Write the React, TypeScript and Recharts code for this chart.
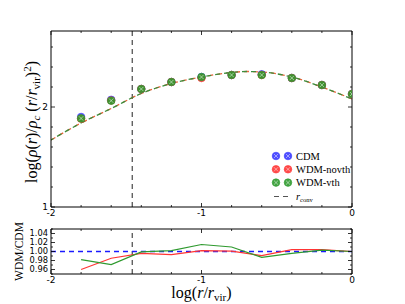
import React from 'react';
import {
  ComposedChart,
  Line,
  Scatter,
  XAxis,
  YAxis,
  ReferenceLine,
  Legend,
} from 'recharts';

// log(r/r_vir) of the measured bins
const radii = [-1.8, -1.6, -1.4, -1.2, -1.0, -0.8, -0.6, -0.4, -0.2, 0];
// log(rho/rho_c (r/r_vir)^2) per model
const cdmDensity = [1.9, 2.072, 2.18, 2.25, 2.3, 2.32, 2.327, 2.29, 2.22, 2.13];
const novthDensity = [1.883, 2.065, 2.18, 2.25, 2.29, 2.32, 2.32, 2.29, 2.22, 2.13];
const vthDensity = [1.886, 2.063, 2.18, 2.25, 2.3, 2.32, 2.32, 2.29, 2.22, 2.13];

// fitted profiles (dashed)
const fitRadii = [-2, -1.8, -1.6, -1.4, -1.2, -1.0, -0.8, -0.7, -0.6, -0.4, -0.2, 0];
const novthFit = [1.67, 1.84, 1.985, 2.135, 2.235, 2.3, 2.345, 2.355, 2.35, 2.3, 2.2, 2.08];
const vthFit = [1.67, 1.84, 1.985, 2.135, 2.235, 2.3, 2.345, 2.355, 2.35, 2.3, 2.2, 2.08];

// WDM / CDM ratios
const novthRatio = [0.96, 0.985, 0.996, 0.993, 1.002, 1.001, 0.991, 1.004, 1.004, 1.0];
const vthRatio = [0.982, 0.971, 0.999, 1.002, 1.0155, 1.01, 0.987, 0.996, 1.003, 1.0];

const rConv = -1.46;

const xTicks = [-2, -1.8, -1.6, -1.4, -1.2, -1, -0.8, -0.6, -0.4, -0.2, 0];
const yTicksTop = [1, 1.2, 1.4, 1.6, 1.8, 2, 2.2, 2.4, 2.6];
const yTicksBottom = [0.95, 0.96, 0.97, 0.98, 0.99, 1.0, 1.01, 1.02, 1.03, 1.04, 1.05];

const zip = (xs: number[], ys: number[]) => xs.map((x, i) => ({ x, y: ys[i] }));

const cdmPts = zip(radii, cdmDensity);
const novthPts = zip(radii, novthDensity);
const vthPts = zip(radii, vthDensity);
const novthFitPts = zip(fitRadii, novthFit);
const vthFitPts = zip(fitRadii, vthFit);
const novthRatioPts = zip(radii, novthRatio);
const vthRatioPts = zip(radii, vthRatio);

const BLUE = '#3a3aff';
const RED = '#ff3434';
const GREEN = '#2f9a2f';
const FIT_RED = '#e8643a';
const FIT_GREEN = '#3c8c3c';
const SANS = '"DejaVu Sans", sans-serif';
const SERIF = '"Liberation Serif", serif';

const isMajor = (v: number, step: number) => Math.abs(v / step - Math.round(v / step)) < 1e-6;

type Side = 'bottom' | 'top' | 'left' | 'right';

// inward ticks, matplotlib style
const makeTick = (side: Side, step: number, fmt?: (v: number) => string, size = 9) => (props: any) => {
  const { x, y, payload } = props;
  const v = payload.value as number;
  const major = isMajor(v, step);
  const len = major ? 4 : 2;
  let line;
  if (side === 'bottom') line = <line x1={x} x2={x} y1={y} y2={y - len} />;
  else if (side === 'top') line = <line x1={x} x2={x} y1={y} y2={y + len} />;
  else if (side === 'left') line = <line x1={x} x2={x + len} y1={y} y2={y} />;
  else line = <line x1={x} x2={x - len} y1={y} y2={y} />;
  let label = null;
  if (fmt && major) {
    label =
      side === 'bottom' ? (
        <text x={x} y={y + 2.5} dy="0.71em" textAnchor="middle" fontSize={size} fontFamily={SANS} fill="#000" stroke="none">
          {fmt(v)}
        </text>
      ) : (
        <text x={x - 3} y={y} dy="0.35em" textAnchor="end" fontSize={size} fontFamily={SANS} fill="#000" stroke="none">
          {fmt(v)}
        </text>
      );
  }
  return (
    <g stroke="#000" strokeWidth={0.8}>
      {line}
      {label}
    </g>
  );
};

const fmtInt = (v: number) => String(Math.round(v));
const fmt2 = (v: number) => v.toFixed(2);

const Marker = ({ cx, cy, color }: { cx: number; cy: number; color: string }) => {
  const d = 2.1;
  return (
    <g>
      <circle cx={cx} cy={cy} r={3.8} fill={color} fillOpacity={0.9} stroke={color} strokeWidth={0.6} />
      <line x1={cx - d} y1={cy - d} x2={cx + d} y2={cy + d} stroke="#fff" strokeOpacity={0.6} strokeWidth={0.8} />
      <line x1={cx - d} y1={cy + d} x2={cx + d} y2={cy - d} stroke="#fff" strokeOpacity={0.6} strokeWidth={0.8} />
    </g>
  );
};

const markerShape = (color: string) => (props: any) => <Marker cx={props.cx} cy={props.cy} color={color} />;

const legendItems = [
  { name: 'CDM', color: BLUE },
  { name: 'WDM-novth', color: RED },
  { name: 'WDM-vth', color: GREEN },
];

const LegendBox = () => (
  <svg width={92} height={58}>
    {legendItems.map((it, i) => (
      <g key={it.name}>
        <Marker cx={8} cy={8 + i * 13.3} color={it.color} />
        <Marker cx={20} cy={8 + i * 13.3} color={it.color} />
        <text x={28} y={8 + i * 13.3} dy="0.35em" fontSize={10.5} fontFamily={SERIF} fill="#000">
          {it.name}
        </text>
      </g>
    ))}
    <line x1={6} x2={22} y1={48.5} y2={48.5} stroke="#555" strokeWidth={1.2} strokeDasharray="5 4" />
    <text x={28} y={48.5} dy="0.3em" fontSize={10.5} fontFamily={SERIF} fill="#000">
      <tspan fontStyle="italic">r</tspan>
      <tspan fontSize={6.5} dy={2}>conv</tspan>
    </text>
  </svg>
);

const TopYLabel = (props: any) => {
  const vb = props.viewBox;
  const cx = 37;
  const cy = vb.y + vb.height / 2 + 3;
  return (
    <text
      x={cx}
      y={cy}
      transform={`rotate(-90 ${cx} ${cy})`}
      textAnchor="middle"
      fontSize={16}
      fontFamily={SERIF}
      fill="#000"
    >
      log(<tspan fontStyle="italic">ρ</tspan>(<tspan fontStyle="italic">r</tspan>)/<tspan fontStyle="italic">ρ</tspan>
      <tspan fontStyle="italic" fontSize={11} dy={3}>c</tspan>
      <tspan dy={-3}> (</tspan>
      <tspan fontStyle="italic">r</tspan>/<tspan fontStyle="italic">r</tspan>
      <tspan fontSize={11} dy={3}>vir</tspan>
      <tspan dy={-3}>)</tspan>
      <tspan fontSize={11} dy={-6}>2</tspan>
      <tspan dy={6}>)</tspan>
    </text>
  );
};

const BottomYLabel = (props: any) => {
  const vb = props.viewBox;
  const cx = 23;
  const cy = vb.y + vb.height / 2;
  return (
    <text x={cx} y={cy} transform={`rotate(-90 ${cx} ${cy})`} textAnchor="middle" fontSize={11.5} fontFamily={SERIF} fill="#000">
      WDM/CDM
    </text>
  );
};

const XLabel = (props: any) => {
  const vb = props.viewBox;
  const cx = vb.x + vb.width / 2;
  return (
    <text x={cx} y={298} textAnchor="middle" fontSize={16} fontFamily={SERIF} fill="#000">
      log(<tspan fontStyle="italic">r</tspan>/<tspan fontStyle="italic">r</tspan>
      <tspan fontSize={11} dy={3}>vir</tspan>
      <tspan dy={-3}>)</tspan>
    </text>
  );
};

const axisLine = { stroke: '#000', strokeWidth: 1 };

export default function App() {
  return (
    <div style={{ position: 'absolute', left: 0, top: 0, width: 405, height: 304, background: '#fff' }}>
      <div style={{ position: 'absolute', left: 0, top: 0 }}>
        <ComposedChart width={405} height={225} margin={{ top: 30, right: 52, left: 0, bottom: 0 }}>
          <XAxis
            type="number"
            dataKey="x"
            domain={[-2, 0]}
            ticks={xTicks}
            interval={0}
            allowDataOverflow
            height={18}
            tickSize={0}
            tickMargin={0}
            tickLine={false}
            axisLine={axisLine}
            tick={makeTick('bottom', 1, fmtInt)}
          />
          <XAxis
            xAxisId="t"
            orientation="top"
            type="number"
            dataKey="x"
            domain={[-2, 0]}
            ticks={xTicks}
            interval={0}
            allowDataOverflow
            height={1}
            tickSize={0}
            tickMargin={0}
            tickLine={false}
            axisLine={axisLine}
            tick={makeTick('top', 1)}
          />
          <YAxis
            type="number"
            dataKey="y"
            domain={[1, 2.76]}
            ticks={yTicksTop}
            interval={0}
            allowDataOverflow
            width={51}
            tickSize={0}
            tickMargin={0}
            tickLine={false}
            axisLine={axisLine}
            tick={makeTick('left', 1, fmtInt)}
            label={{ content: TopYLabel }}
          />
          <YAxis
            yAxisId="r"
            orientation="right"
            type="number"
            dataKey="y"
            domain={[1, 2.76]}
            ticks={yTicksTop}
            interval={0}
            allowDataOverflow
            width={1}
            tickSize={0}
            tickMargin={0}
            tickLine={false}
            axisLine={axisLine}
            tick={makeTick('right', 1)}
          />
          {/* invisible series so the mirrored top/right axes get a scale */}
          <Line
            data={vthFitPts}
            dataKey="y"
            xAxisId="t"
            yAxisId="r"
            stroke="none"
            dot={false}
            activeDot={false}
            legendType="none"
            isAnimationActive={false}
          />
          <ReferenceLine x={rConv} stroke="#555" strokeWidth={1.3} strokeDasharray="5 4" />
          <Line
            data={novthFitPts}
            dataKey="y"
            type="monotone"
            stroke={FIT_RED}
            strokeWidth={1.3}
            strokeDasharray="5 4"
            dot={false}
            isAnimationActive={false}
          />
          <Line
            data={vthFitPts}
            dataKey="y"
            type="monotone"
            stroke={FIT_GREEN}
            strokeWidth={1.3}
            strokeDasharray="5 4"
            strokeDashoffset={2}
            dot={false}
            isAnimationActive={false}
          />
          <Scatter data={cdmPts} dataKey="y" shape={markerShape(BLUE)} isAnimationActive={false} />
          <Scatter data={novthPts} dataKey="y" shape={markerShape(RED)} isAnimationActive={false} />
          <Scatter data={vthPts} dataKey="y" shape={markerShape(GREEN)} isAnimationActive={false} />
          <Legend
            layout="vertical"
            align="center"
            verticalAlign="middle"
            content={LegendBox}
            wrapperStyle={{ position: 'absolute', left: 268, top: 148, width: 92, height: 58 }}
          />
        </ComposedChart>
      </div>
      <div style={{ position: 'absolute', left: 0, top: 0 }}>
        <ComposedChart width={405} height={304} margin={{ top: 228, right: 52, left: 0, bottom: 0 }}>
          <XAxis
            type="number"
            dataKey="x"
            domain={[-2, 0]}
            ticks={xTicks}
            interval={0}
            allowDataOverflow
            height={30}
            tickSize={0}
            tickMargin={0}
            tickLine={false}
            axisLine={axisLine}
            tick={makeTick('bottom', 1, fmtInt)}
            label={{ content: XLabel }}
          />
          <XAxis
            xAxisId="t"
            orientation="top"
            type="number"
            dataKey="x"
            domain={[-2, 0]}
            ticks={xTicks}
            interval={0}
            allowDataOverflow
            height={1}
            tickSize={0}
            tickMargin={0}
            tickLine={false}
            axisLine={axisLine}
            tick={makeTick('top', 1)}
          />
          <YAxis
            type="number"
            dataKey="y"
            domain={[0.95, 1.05]}
            ticks={yTicksBottom}
            interval={0}
            allowDataOverflow
            width={51}
            tickSize={0}
            tickMargin={0}
            tickLine={false}
            axisLine={axisLine}
            tick={makeTick('left', 0.02, fmt2, 8.3)}
            label={{ content: BottomYLabel }}
          />
          <YAxis
            yAxisId="r"
            orientation="right"
            type="number"
            dataKey="y"
            domain={[0.95, 1.05]}
            ticks={yTicksBottom}
            interval={0}
            allowDataOverflow
            width={1}
            tickSize={0}
            tickMargin={0}
            tickLine={false}
            axisLine={axisLine}
            tick={makeTick('right', 0.02)}
          />
          <Line
            data={vthRatioPts}
            dataKey="y"
            xAxisId="t"
            yAxisId="r"
            stroke="none"
            dot={false}
            activeDot={false}
            legendType="none"
            isAnimationActive={false}
          />
          <ReferenceLine x={rConv} stroke="#555" strokeWidth={1.3} strokeDasharray="5 4" />
          <ReferenceLine y={1} stroke="#1a1aff" strokeWidth={1.3} strokeDasharray="5 4" />
          <Line data={novthRatioPts} dataKey="y" type="linear" stroke={RED} strokeWidth={1.2} dot={false} isAnimationActive={false} />
          <Line data={vthRatioPts} dataKey="y" type="linear" stroke={GREEN} strokeWidth={1.2} dot={false} isAnimationActive={false} />
        </ComposedChart>
      </div>
    </div>
  );
}
